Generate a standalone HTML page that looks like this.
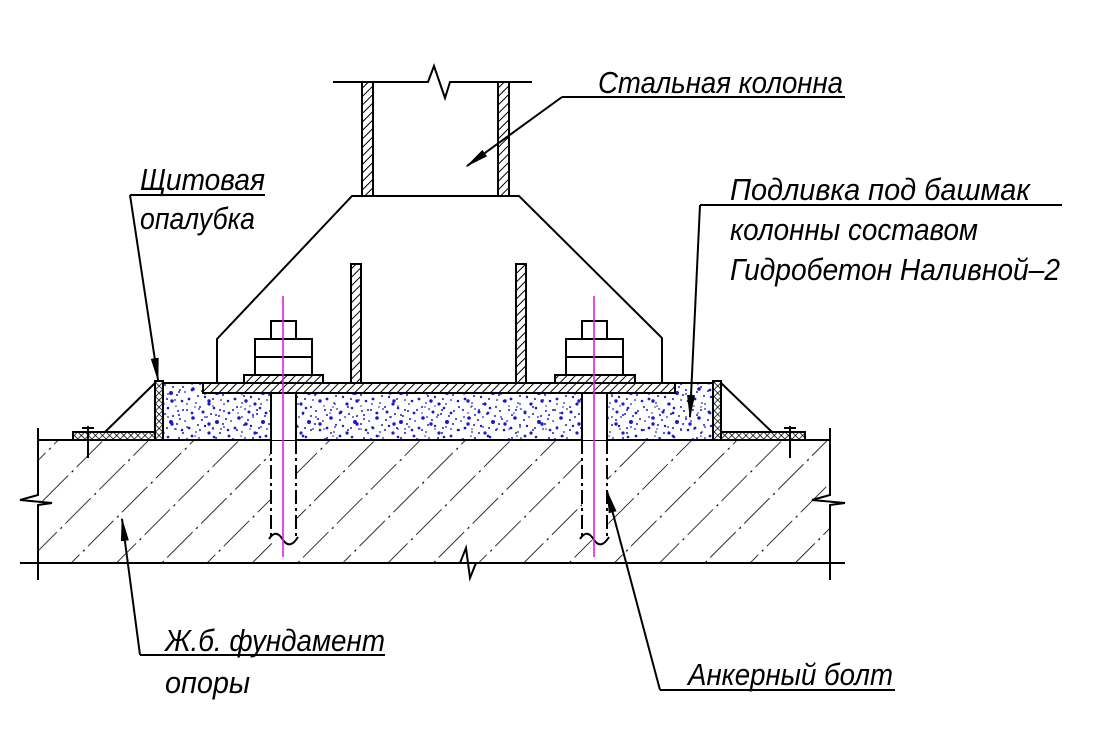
<!DOCTYPE html>
<html><head><meta charset="utf-8"><style>
html,body{margin:0;padding:0;background:#fff;}
svg{display:block}
text{font-family:"Liberation Sans",sans-serif;font-style:italic;font-size:31px;fill:#000}
</style></head><body>
<svg width="1099" height="753" viewBox="0 0 1099 753" xmlns="http://www.w3.org/2000/svg">
<defs>
<pattern id="hs" width="6" height="6" patternUnits="userSpaceOnUse" patternTransform="rotate(45)">
<rect width="6" height="6" fill="#fff"/><line x1="0" y1="0" x2="0" y2="6" stroke="#000" stroke-width="2"/></pattern>
<pattern id="hx" width="5" height="5" patternUnits="userSpaceOnUse" patternTransform="rotate(45)">
<rect width="5" height="5" fill="#fff"/><line x1="0" y1="0" x2="0" y2="5" stroke="#000" stroke-width="1.5"/><line x1="0" y1="0" x2="5" y2="0" stroke="#000" stroke-width="1.5"/></pattern>
<pattern id="hc" width="32" height="48" patternUnits="userSpaceOnUse" patternTransform="rotate(45)">
<rect width="32" height="48" fill="#fff"/><line x1="0" y1="0" x2="0" y2="36" stroke="#000" stroke-width="1.6"/><circle cx="0" cy="42" r="1.3" fill="#000"/></pattern>
<pattern id="gd" width="46" height="29" patternUnits="userSpaceOnUse">
<g fill="#1a1acc">
<circle cx="3" cy="4" r="1"/><circle cx="9" cy="12" r="1.8"/><circle cx="15" cy="3" r="0.9"/><circle cx="21" cy="20" r="1.2"/>
<circle cx="27" cy="8" r="1"/><circle cx="33" cy="16" r="2"/><circle cx="40" cy="5" r="1"/><circle cx="44" cy="24" r="1.3"/>
<circle cx="5" cy="22" r="1.4"/><circle cx="12" cy="26" r="0.9"/><circle cx="18" cy="14" r="1"/><circle cx="25" cy="27" r="1.6"/>
<circle cx="30" cy="2" r="1.3"/><circle cx="37" cy="23" r="0.9"/><circle cx="42" cy="13" r="1"/><circle cx="1" cy="15" r="0.9"/>
<circle cx="14" cy="19" r="1"/><circle cx="23" cy="11" r="0.9"/><circle cx="35" cy="10" r="1"/><circle cx="8" cy="7" r="0.8"/>
<circle cx="29" cy="22" r="1"/><circle cx="19" cy="6" r="1.5"/><circle cx="39" cy="18" r="1"/><circle cx="11" cy="1" r="0.8"/>
</g></pattern>
<pattern id="gd2" width="37" height="23" patternUnits="userSpaceOnUse" patternTransform="translate(11,7)">
<g fill="#1a1acc">
<circle cx="4" cy="9" r="1"/><circle cx="13" cy="3" r="1.7"/><circle cx="20" cy="17" r="1"/><circle cx="28" cy="6" r="0.9"/>
<circle cx="33" cy="15" r="1.4"/><circle cx="9" cy="19" r="0.9"/><circle cx="24" cy="12" r="1"/><circle cx="17" cy="8" r="0.8"/>
</g></pattern>
<marker id="ar" markerWidth="24" markerHeight="10" refX="22" refY="5" orient="auto" markerUnits="userSpaceOnUse"><path d="M0,1 L24,5 L0,9 Z" fill="#000"/></marker>
</defs>
<g stroke="#000" stroke-width="2" fill="none">
<rect x="38" y="440" width="792" height="123" fill="url(#hc)" stroke="none"/>
<line x1="38" y1="440" x2="830" y2="440"/>
<line x1="20" y1="563" x2="845" y2="563"/>
<path d="M38,428 L38,495 L20,500 L52,503 L38,505 L38,580"/>
<path d="M830,428 L830,495 L812,500 L845,503 L830,505 L830,580"/>
<path d="M460,563 L466,548 L470,578 L476,563"/>
<rect x="163" y="383" width="550" height="57" fill="#fff"/>
<rect x="164" y="384" width="548" height="55" fill="url(#gd)" stroke="none"/>
<rect x="164" y="384" width="548" height="55" fill="url(#gd2)" stroke="none"/>
<rect x="271" y="383" width="25" height="57" fill="#fff" stroke="none"/>
<rect x="582" y="383" width="25" height="57" fill="#fff" stroke="none"/>
<line x1="271" y1="393" x2="271" y2="440"/><line x1="296" y1="393" x2="296" y2="440"/>
<line x1="582" y1="393" x2="582" y2="440"/><line x1="607" y1="393" x2="607" y2="440"/>
<rect x="271" y="441" width="25" height="99" fill="#fff" stroke="none"/>
<rect x="582" y="441" width="25" height="99" fill="#fff" stroke="none"/>
<g stroke-dasharray="14,4,3,4">
<line x1="271" y1="440" x2="271" y2="537"/><line x1="296" y1="440" x2="296" y2="537"/>
<line x1="582" y1="440" x2="582" y2="537"/><line x1="607" y1="440" x2="607" y2="537"/>
</g>
<path d="M269,539 Q276,528 283,540 Q290,550 298,537"/>
<path d="M580,539 Q587,528 594,540 Q601,550 609,537"/>
<rect x="155" y="381" width="8" height="59" fill="url(#hx)"/>
<rect x="73" y="432" width="82" height="8" fill="url(#hx)"/>
<line x1="155" y1="383" x2="105" y2="432"/>
<line x1="88" y1="426" x2="88" y2="458"/><line x1="82" y1="428" x2="94" y2="428"/>
<rect x="713" y="381" width="8" height="59" fill="url(#hx)"/>
<rect x="721" y="432" width="84" height="8" fill="url(#hx)"/>
<line x1="721" y1="383" x2="772" y2="432"/>
<line x1="790" y1="426" x2="790" y2="458"/><line x1="784" y1="428" x2="796" y2="428"/>
<rect x="203" y="383" width="472" height="10" fill="url(#hs)"/>
<rect x="244" y="375" width="79" height="8" fill="url(#hs)"/>
<rect x="555" y="375" width="80" height="8" fill="url(#hs)"/>
<rect x="255" y="339" width="57" height="18" fill="#fff"/><rect x="255" y="357" width="57" height="18" fill="#fff"/>
<rect x="271" y="321" width="25" height="18" fill="#fff"/>
<rect x="566" y="339" width="57" height="18" fill="#fff"/><rect x="566" y="357" width="57" height="18" fill="#fff"/>
<rect x="582" y="321" width="25" height="18" fill="#fff"/>
<path d="M217,383 L217,339 L352,196 L519,196 L662,338 L662,383"/>
<rect x="351" y="264" width="10" height="119" fill="url(#hs)"/>
<rect x="516" y="264" width="10" height="119" fill="url(#hs)"/>
<rect x="362" y="82" width="11" height="114" fill="url(#hs)"/>
<rect x="498" y="82" width="11" height="114" fill="url(#hs)"/>
<path d="M333,82 L428,82 L434,66 L445,98 L450,82 L532,82"/>
<g stroke="#e020e0" stroke-width="1.6">
<line x1="283" y1="296" x2="283" y2="557"/><line x1="594" y1="296" x2="594" y2="557"/>
</g>
<line x1="562" y1="97" x2="845" y2="97"/>
<line x1="562" y1="97" x2="467" y2="166" marker-end="url(#ar)"/>
<line x1="130" y1="195" x2="265" y2="195"/>
<line x1="130" y1="195" x2="158" y2="380" marker-end="url(#ar)"/>
<line x1="700" y1="205" x2="1062" y2="205"/>
<line x1="700" y1="205" x2="690" y2="417" marker-end="url(#ar)"/>
<line x1="140" y1="655" x2="385" y2="655"/>
<line x1="140" y1="655" x2="122" y2="519" marker-end="url(#ar)"/>
<line x1="660" y1="690" x2="895" y2="690"/>
<line x1="660" y1="690" x2="607" y2="491" marker-end="url(#ar)"/>
</g>
<text x="598" y="93" textLength="245" lengthAdjust="spacingAndGlyphs">Стальная колонна</text>
<text x="140" y="190" textLength="125" lengthAdjust="spacingAndGlyphs">Щитовая</text>
<text x="140" y="229" textLength="115" lengthAdjust="spacingAndGlyphs">опалубка</text>
<text x="730" y="200" textLength="300" lengthAdjust="spacingAndGlyphs">Подливка под башмак</text>
<text x="730" y="240" textLength="248" lengthAdjust="spacingAndGlyphs">колонны составом</text>
<text x="730" y="280" textLength="330" lengthAdjust="spacingAndGlyphs">Гидробетон Наливной–2</text>
<text x="165" y="651" textLength="220" lengthAdjust="spacingAndGlyphs">Ж.б. фундамент</text>
<text x="165" y="693" textLength="85" lengthAdjust="spacingAndGlyphs">опоры</text>
<text x="688" y="685" textLength="205" lengthAdjust="spacingAndGlyphs">Анкерный болт</text>
</svg>
</body></html>
